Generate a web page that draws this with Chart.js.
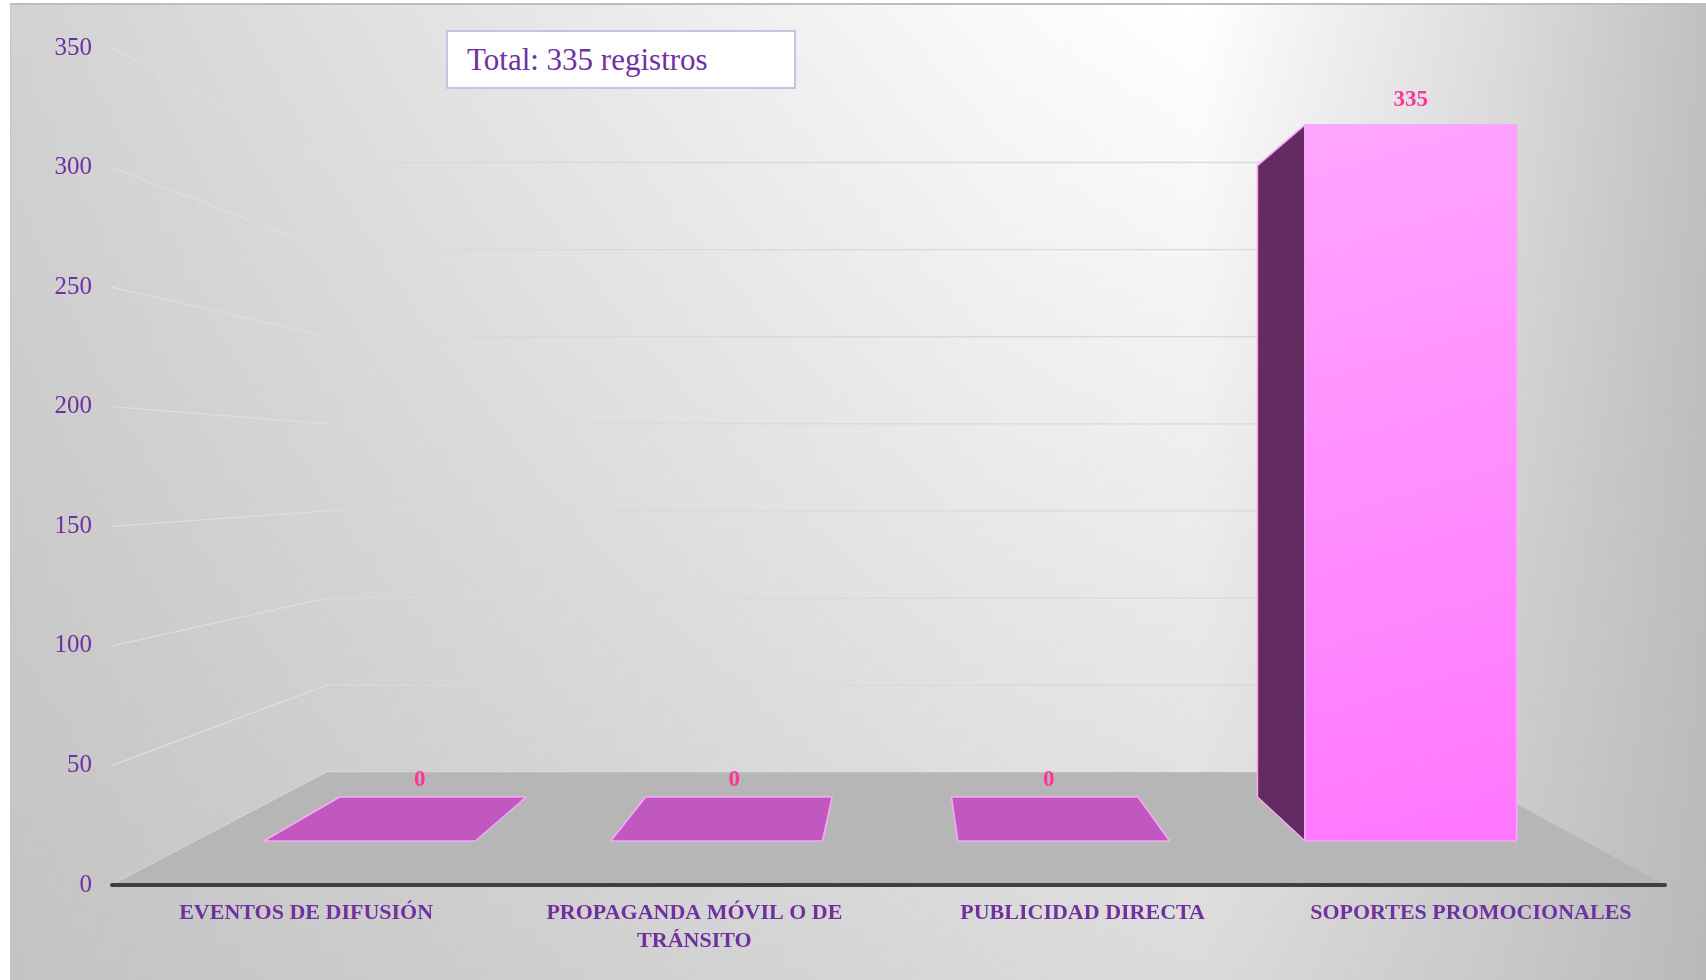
<!DOCTYPE html>
<html><head><meta charset="utf-8">
<script src="https://cdn.jsdelivr.net/npm/chart.js@4.4.0/dist/chart.umd.min.js"></script>
<style>
html,body{margin:0;padding:0;background:#fff;}
#wrap{position:relative;width:1706px;height:980px;}
#total{position:absolute;left:446px;top:30px;width:350px;height:59px;box-sizing:border-box;border:2px solid #CDBFE0;background:#fff;font-family:'Liberation Serif',serif;font-size:31px;color:#7030A0;padding-left:19px;display:flex;align-items:center;}
</style></head><body>
<div id="wrap"><canvas id="c"></canvas><div id="total"></div></div>
<script>
const categories = ['EVENTOS DE DIFUSIÓN', ['PROPAGANDA MÓVIL O DE', 'TRÁNSITO'], 'PUBLICIDAD DIRECTA', 'SOPORTES PROMOCIONALES'];
const values = [0, 0, 0, 335];
const yTicks = [0, 50, 100, 150, 200, 250, 300, 350];
const totalText = 'Total: 335 registros';

document.getElementById('total').textContent = totalText;

const PURPLE = '#7030A0';
const geom = {vx: 0.51, vy: 0.504, sWall: 0.7286, sFront: 0.894, sBack: 0.788, sLabel: 0.81};
function vp(ca){ return [ca.left + geom.vx*(ca.right-ca.left), ca.top + geom.vy*(ca.bottom-ca.top)]; }
function proj(ca, x, y, s){ const [cx,cy]=vp(ca); return [cx + s*(x-cx), cy + s*(y-cy)]; }
function poly(ctx, pts){ ctx.beginPath(); ctx.moveTo(pts[0][0],pts[0][1]); for(let i=1;i<pts.length;i++) ctx.lineTo(pts[i][0],pts[i][1]); ctx.closePath(); }

const bgPlugin = {
  id: 'bg',
  beforeDraw(chart){
    const ctx = chart.ctx, W = chart.width, H = chart.height;
    ctx.save();
    ctx.fillStyle = '#fff'; ctx.fillRect(0,0,W,H);
    const x0 = 10, y0 = 5;
    const g = ctx.createLinearGradient(x0,0,W,0);
    g.addColorStop(0,'rgb(210,210,210)');
    g.addColorStop(0.348,'rgb(234,234,234)');
    g.addColorStop(0.584,'rgb(250,250,250)');
    g.addColorStop(0.702,'rgb(255,255,255)');
    g.addColorStop(0.879,'rgb(220,220,220)');
    g.addColorStop(1,'rgb(192,192,192)');
    ctx.fillStyle = g; ctx.fillRect(x0,y0,W-x0,H-y0);
    const v = ctx.createLinearGradient(0,y0,0,H);
    v.addColorStop(0,'rgba(178,178,178,0)');
    v.addColorStop(1,'rgba(178,178,178,0.47)');
    ctx.fillStyle = v; ctx.fillRect(x0,y0,W-x0,H-y0);
    ctx.strokeStyle = '#BDBDBD'; ctx.lineWidth = 2;
    ctx.beginPath(); ctx.moveTo(x0,4); ctx.lineTo(W,4); ctx.stroke();
    ctx.strokeStyle = '#C6C6C6'; ctx.lineWidth = 1;
    ctx.beginPath(); ctx.moveTo(x0+0.5,y0); ctx.lineTo(x0+0.5,H); ctx.stroke();
    ctx.restore();
  }
};

const threeD = {
  id: 'threeD',
  beforeDatasetsDraw(chart){
    const ctx = chart.ctx, ca = chart.chartArea, ys = chart.scales.y;
    const [cx, cy] = vp(ca);
    ctx.save();
    yTicks.forEach(t => {
      const yf = ys.getPixelForValue(t);
      const a = proj(ca, ca.left, yf, geom.sWall);
      const b = proj(ca, ca.right, yf, geom.sWall);
      ctx.lineWidth = 1.3;
      ctx.strokeStyle = 'rgba(222,222,222,0.95)';
      ctx.beginPath(); ctx.moveTo(ca.left, yf); ctx.lineTo(a[0], a[1]); ctx.stroke();
      ctx.strokeStyle = '#D9D9D9';
      ctx.beginPath(); ctx.moveTo(a[0], a[1]); ctx.lineTo(b[0], b[1]); ctx.stroke();
    });
    const y0 = ys.getPixelForValue(0);
    poly(ctx, [[ca.left,y0],[ca.right,y0],proj(ca,ca.right,y0,geom.sWall),proj(ca,ca.left,y0,geom.sWall)]);
    ctx.fillStyle = '#B6B6B6'; ctx.fill();
    ctx.strokeStyle = '#3F3F3F'; ctx.lineWidth = 4; ctx.lineCap = 'round';
    ctx.beginPath(); ctx.moveTo(ca.left, y0); ctx.lineTo(ca.right, y0); ctx.stroke();
    ctx.lineCap = 'butt';

    const meta = chart.getDatasetMeta(0);
    const order = meta.data.map((el,i)=>i).sort((a,b)=>Math.abs(meta.data[b].x-cx)-Math.abs(meta.data[a].x-cx));
    const labels = [];
    order.forEach(i => {
      const el = meta.data[i];
      const L = el.x - el.width/2, R = el.x + el.width/2, T = el.y, B = el.base;
      const f = (x,y)=>proj(ca,x,y,geom.sFront), k = (x,y)=>proj(ca,x,y,geom.sBack);
      const fLT=f(L,T), fRT=f(R,T), fRB=f(R,B), fLB=f(L,B);
      const bLT=k(L,T), bRT=k(R,T), bRB=k(R,B), bLB=k(L,B);
      const h = B - T;
      ctx.strokeStyle = '#F8A8F4'; ctx.lineWidth = 1.6; ctx.lineJoin = 'round';
      if (h > 0.5 && L > cx) { poly(ctx,[fLT,bLT,bLB,fLB]); ctx.fillStyle='#622B61'; ctx.fill(); ctx.stroke(); }
      if (h > 0.5 && R < cx) { poly(ctx,[fRT,bRT,bRB,fRB]); ctx.fillStyle='#622B61'; ctx.fill(); ctx.stroke(); }
      const topVisible = T > cy;
      if (topVisible) { poly(ctx,[fLT,fRT,bRT,bLT]); ctx.fillStyle='#C158BF'; ctx.fill(); ctx.stroke(); }
      if (h > 0.5) {
        poly(ctx,[fLT,fRT,fRB,fLB]);
        const g = ctx.createLinearGradient(fLT[0],fLT[1],fRB[0],fRB[1]);
        g.addColorStop(0,'#FFA6FF'); g.addColorStop(1,'#FF76FF');
        ctx.fillStyle = g; ctx.fill(); ctx.stroke();
      }
      let lx, ly;
      if (topVisible) { lx = proj(ca, el.x, T, geom.sLabel)[0]; ly = bLT[1] - 5; }
      else { lx = (fLT[0]+fRT[0])/2; ly = fLT[1] - 13; }
      labels.push([String(values[i]), lx, ly]);
    });
    ctx.fillStyle = '#FF3399';
    ctx.font = 'bold 23px "Liberation Serif"';
    ctx.textAlign = 'center'; ctx.textBaseline = 'bottom';
    labels.forEach(l => ctx.fillText(l[0], l[1], l[2]));
    ctx.restore();
  }
};

new Chart(document.getElementById('c'), {
  type: 'bar',
  data: { labels: categories, datasets: [{ data: values, backgroundColor: 'rgba(0,0,0,0)', borderWidth: 0, categoryPercentage: 1, barPercentage: 0.61 }] },
  options: {
    responsive: true, maintainAspectRatio: false, animation: false,
    layout: { padding: { top: 48, right: 41, left: 0, bottom: 0 } },
    plugins: { legend: { display: false }, tooltip: { enabled: false } },
    scales: {
      x: {
        grid: { display: false, drawTicks: false }, border: { display: false },
        ticks: { color: PURPLE, font: { family: 'Liberation Serif', size: 22, weight: 'bold', lineHeight: 1.25 }, padding: 15, maxRotation: 0, autoSkip: false },
        afterFit: s => { s.height = 95; }
      },
      y: {
        min: 0, max: 350,
        grid: { display: false, drawTicks: false }, border: { display: false },
        ticks: { color: PURPLE, font: { family: 'Liberation Serif', size: 25 }, padding: 20, stepSize: 50 },
        afterBuildTicks: s => { s.ticks = yTicks.map(v => ({ value: v })); },
        afterFit: s => { s.width = 112; }
      }
    }
  },
  plugins: [bgPlugin, threeD]
});
</script>
</body></html>
